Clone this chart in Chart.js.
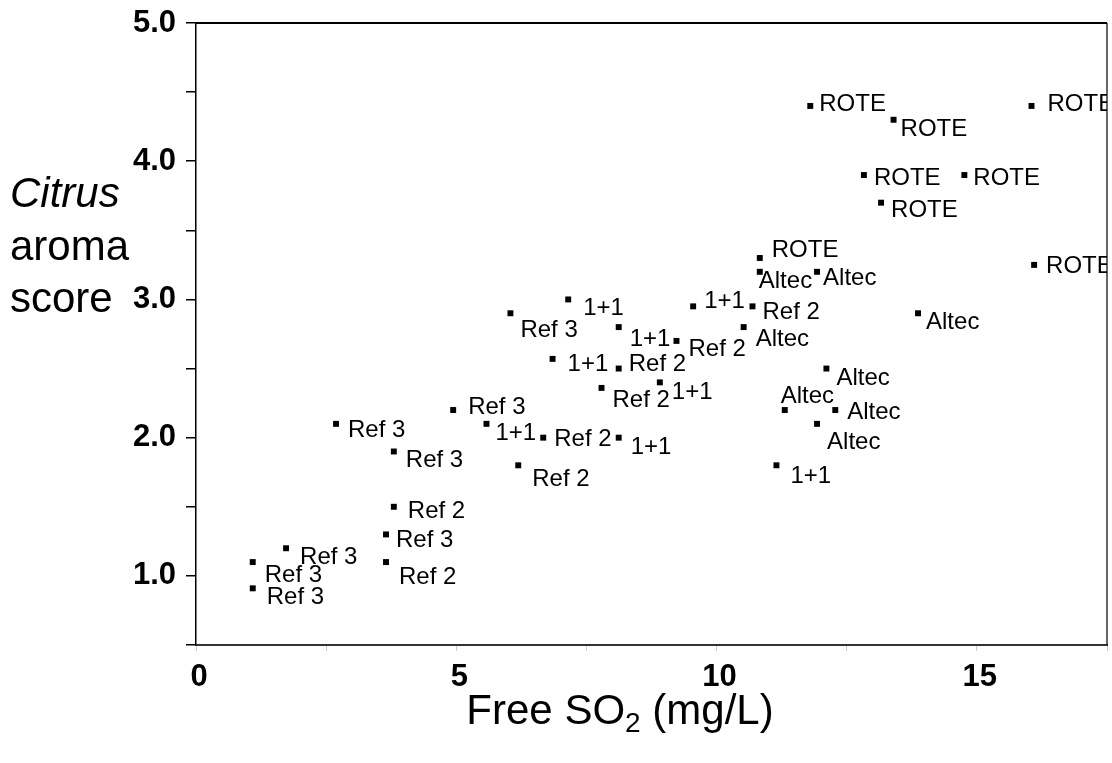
<!DOCTYPE html>
<html>
<head>
<meta charset="utf-8">
<script src="https://cdn.jsdelivr.net/npm/chart.js@4"></script>
<style>
  html, body { margin: 0; background: #fff; }
  #wrap { width: 1112px; height: 763px; }
</style>
</head>
<body>
<div id="wrap"><canvas id="chart"></canvas></div>
<script>
// Free SO2 (mg/L) vs Citrus aroma score, one list pair per closure
const roteSO2 = [11.8, 13.4, 16.05, 12.83, 14.76, 13.16, 10.83, 16.1];
const roteScore = [4.4, 4.3, 4.4, 3.9, 3.9, 3.7, 3.3, 3.25];

const altecSO2 = [10.83, 11.93, 10.52, 13.87, 12.11, 11.31, 12.28, 11.93];
const altecScore = [3.2, 3.2, 2.8, 2.9, 2.5, 2.2, 2.2, 2.1];

const onePlusOneSO2 = [7.15, 9.55, 6.85, 8.12, 8.91, 5.58, 8.12, 11.15];
const onePlusOneScore = [3.0, 2.95, 2.57, 2.8, 2.4, 2.1, 2.0, 1.8];

const ref2SO2 = [10.69, 9.23, 8.12, 7.79, 6.67, 6.19, 3.8, 3.65];
const ref2Score = [2.95, 2.7, 2.5, 2.36, 2.0, 1.8, 1.5, 1.1];

const ref3SO2 = [6.04, 4.94, 2.69, 3.8, 3.65, 1.73, 1.09, 1.09];
const ref3Score = [2.9, 2.2, 2.1, 1.9, 1.3, 1.2, 1.1, 0.91];

const xTickLabels = [0, 5, 10, 15];
const yTickLabels = [1, 2, 3, 4, 5];

// where each text label sits relative to its point, [dx, dy] in px
const labelNudges = {
  "ROTE": [[9, -2], [7, 10], [16, -2], [10, 3], [9, 3], [10, 8], [12, -8], [12, 1]],
  "Altec": [[-1, 10], [6, 7], [12, 12], [8, 9], [10, 10], [-4, -14], [12, 2], [10, 19]],
  "1+1": [[15, 9], [11, -5], [15, 5], [11, 12], [12, 10], [9, 10], [12, 10], [14, 11]],
  "Ref 2": [[10, 6], [12, 8], [10, -4], [11, 12], [11, 2], [14, 14], [14, 5], [13, 15]],
  "Ref 3": [[10, 17], [15, -3], [12, 7], [12, 9], [10, 6], [14, 9], [12, 13], [14, 9]]
};

const FONT = "'Liberation Sans', Arial, sans-serif";

function toPoints(xs, ys) {
  return xs.map((x, i) => ({ x: x, y: ys[i] }));
}

function makeSet(label, xs, ys) {
  return {
    label: label,
    data: toPoints(xs, ys),
    pointStyle: "rect",
    pointRadius: 4.2,
    pointBorderWidth: 0,
    backgroundColor: "#000",
    borderColor: "#000",
    showLine: false
  };
}

const pointLabels = {
  id: "pointLabels",
  afterDatasetsDraw(chart) {
    const ctx = chart.ctx;
    const a = chart.chartArea;
    ctx.save();
    ctx.beginPath();
    ctx.rect(a.left, a.top, a.right - a.left, a.bottom - a.top);
    ctx.clip();
    ctx.font = "24px " + FONT;
    ctx.fillStyle = "#000";
    ctx.textAlign = "left";
    ctx.textBaseline = "middle";
    chart.data.datasets.forEach((ds, i) => {
      chart.getDatasetMeta(i).data.forEach((pt, j) => {
        const n = labelNudges[ds.label][j];
        ctx.fillText(ds.label, pt.x + n[0], pt.y + n[1]);
      });
    });
    ctx.restore();
  }
};

const frameAndTitles = {
  id: "frameAndTitles",
  afterDraw(chart) {
    const ctx = chart.ctx;
    const a = chart.chartArea;
    const y = chart.scales.y;
    ctx.save();
    ctx.strokeStyle = "#000";
    // top and right edges of the box
    ctx.lineWidth = 2;
    ctx.beginPath();
    ctx.moveTo(a.left, a.top);
    ctx.lineTo(a.right, a.top);
    ctx.stroke();
    ctx.lineWidth = 1.2;
    ctx.beginPath();
    ctx.moveTo(a.right, a.top);
    ctx.lineTo(a.right, a.bottom);
    ctx.stroke();

    // y title, three lines
    ctx.fillStyle = "#000";
    ctx.textAlign = "left";
    ctx.textBaseline = "alphabetic";
    const base = y.getPixelForValue(3) + 13;
    ctx.font = "italic 42px " + FONT;
    ctx.fillText("Citrus", 10, base - 105);
    ctx.font = "42px " + FONT;
    ctx.fillText("aroma", 10, base - 52);
    ctx.fillText("score", 10, base);

    // x title with subscript
    const big = "42px " + FONT, small = "28px " + FONT;
    ctx.font = big;
    const w1 = ctx.measureText("Free SO").width;
    const w3 = ctx.measureText(" (mg/L)").width;
    ctx.font = small;
    const w2 = ctx.measureText("2").width;
    let x = 620 - (w1 + w2 + w3) / 2;
    const bl = 724;
    ctx.font = big;
    ctx.fillText("Free SO", x, bl);
    x += w1;
    ctx.font = small;
    ctx.fillText("2", x, bl + 8);
    x += w2;
    ctx.font = big;
    ctx.fillText(" (mg/L)", x, bl);
    ctx.restore();
  }
};

new Chart(document.getElementById("chart").getContext("2d"), {
  type: "scatter",
  data: {
    datasets: [
      makeSet("ROTE", roteSO2, roteScore),
      makeSet("Altec", altecSO2, altecScore),
      makeSet("1+1", onePlusOneSO2, onePlusOneScore),
      makeSet("Ref 2", ref2SO2, ref2Score),
      makeSet("Ref 3", ref3SO2, ref3Score)
    ]
  },
  options: {
    responsive: true,
    maintainAspectRatio: false,
    animation: false,
    layout: { padding: { top: 23, right: 5, left: 0, bottom: 0 } },
    plugins: {
      legend: { display: false },
      tooltip: { enabled: false }
    },
    scales: {
      x: {
        type: "linear",
        min: 0,
        max: 17.5,
        afterFit(scale) {
          scale.height = 118;
          scale.paddingLeft = 0;
          scale.paddingRight = 0;
        },
        border: { display: true, color: "#333", width: 2 },
        grid: { drawOnChartArea: false, drawTicks: true, tickLength: 6, color: "#ccc" },
        ticks: {
          stepSize: 2.5,
          padding: 8,
          labelOffset: 3,
          color: "#000",
          font: { family: FONT, size: 31, weight: "bold" },
          callback: (v) => xTickLabels.includes(v) ? String(v) : ""
        }
      },
      y: {
        type: "linear",
        min: 0.5,
        max: 5,
        afterFit(scale) {
          scale.width = 196;
          scale.paddingTop = 0;
          scale.paddingBottom = 0;
        },
        border: { display: true, color: "#000", width: 1.5 },
        grid: { drawOnChartArea: false, drawTicks: true, tickLength: 10, color: "#000", lineWidth: 1.5 },
        ticks: {
          stepSize: 0.5,
          padding: 10,
          color: "#000",
          font: { family: FONT, size: 31, weight: "bold" },
          callback: (v) => yTickLabels.includes(v) ? v.toFixed(1) : ""
        }
      }
    }
  },
  plugins: [pointLabels, frameAndTitles]
});
</script>
</body>
</html>
